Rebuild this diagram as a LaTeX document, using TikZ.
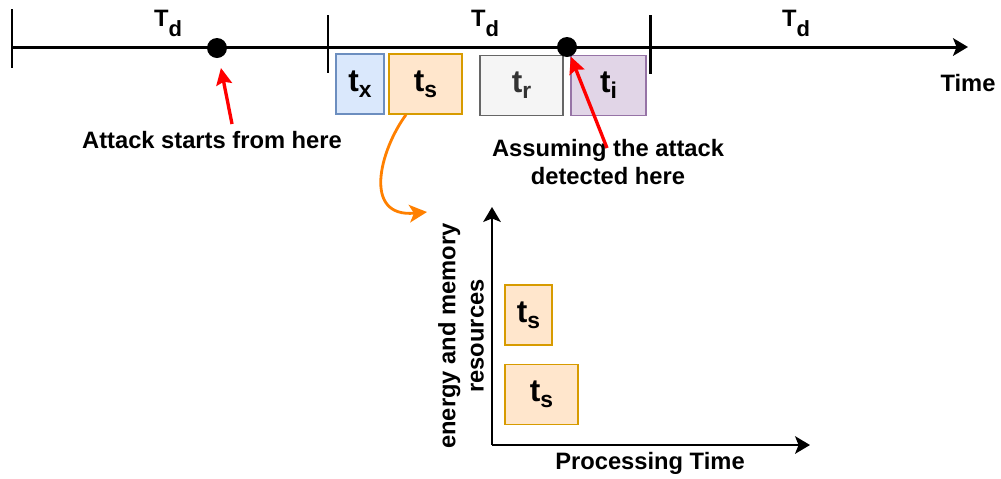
\documentclass[tikz,border=0pt]{standalone}
\usepackage{fontspec}
\setmainfont{Liberation Sans}
\usetikzlibrary{arrows.meta}
\definecolor{txfill}{HTML}{DAE8FC}\definecolor{txline}{HTML}{6C8EBF}
\definecolor{tsfill}{HTML}{FFE6CC}\definecolor{tsline}{HTML}{D79B00}
\definecolor{trfill}{HTML}{F5F5F5}\definecolor{trline}{HTML}{666666}\definecolor{trtext}{HTML}{333333}
\definecolor{tifill}{HTML}{E1D5E7}\definecolor{tiline}{HTML}{9673A6}
\definecolor{pointer}{HTML}{FF0000}\definecolor{zoomline}{HTML}{FF8000}
\newcommand{\slotlabel}[1]{{\fontsize{18}{20}\selectfont t}\raisebox{-3.5pt}{\fontsize{13}{14}\selectfont #1}}
\newcommand{\period}{T\raisebox{-6pt}{\fontsize{12.5}{14}\selectfont d}}
\begin{document}
\begin{tikzpicture}[x=0.02cm,y=-0.02cm,
      every node/.style={font=\fontsize{13.5}{16}\selectfont\bfseries},
      axis/.style={line width=1.7pt,-{Stealth[length=8.5pt,width=10pt,inset=2pt]}},
      tick/.style={line width=1.7pt},
      event/.style={circle,fill=black,inner sep=0pt,minimum size=0.4cm},
      slot/.style={draw,line width=0.85pt,inner sep=0pt,minimum height=1.2cm},
      marker/.style={draw=pointer,line width=1.9pt,-{Stealth[length=9.5pt,width=9pt,inset=1.5pt]}}]
        \useasboundingbox (0,0) rectangle (1001,478);
        % time line
        \coordinate (t0) at (12,47);
        \coordinate (tend) at (968,47);
        \draw[axis] (t0) -- (tend);
        \draw[tick] (12,9) -- (12,68);
        \draw[tick] (328,15) -- (328,73);
        \draw[tick] (650,15) -- (650,74);
        \node[anchor=base] (td1) at (168,26) {\period};
        \node[anchor=base] (td2) at (485,26) {\period};
        \node[anchor=base] (td3) at (796,26) {\period};
        \node (timelbl) at (968,83) {Time};
        % slots
        \node[slot,fill=txfill,draw=txline,minimum width=0.96cm] (tx) at (360,84) {\slotlabel{x}};
        \node[slot,fill=tsfill,draw=tsline,minimum width=1.46cm] (ts) at (425.5,84) {\slotlabel{s}};
        \node[slot,fill=trfill,draw=trline,text=trtext,minimum width=1.66cm] (tr) at (521.5,85.5) {\slotlabel{r}};
        \node[slot,fill=tifill,draw=tiline,minimum width=1.5cm] (ti) at (608.5,85.5) {\slotlabel{i}};
        % events
        \node[event] (start) at (217,48) {};
        \node[event] (detect) at (567,47) {};
        \node (startlbl) at (212,140) {Attack starts from here};
        \node[align=center] (detectlbl) at (608,162) {Assuming the attack\\detected here};
        \coordinate (starttail) at (232,124);
        \coordinate (detecttail) at (607,148);
        \draw[marker,shorten >=0.2cm] (starttail) -- (start);
        \draw[marker] (detecttail) -- (detect);
        % zoom into t_s
        \coordinate (zoomend) at (427,212);
        \draw[draw=zoomline,line width=1.6pt,-{Stealth[length=10pt,width=10pt,inset=2.5pt]}]
            (ts.south -| 406,0) .. controls (380,150) and (362,218) .. (zoomend);
        % resource chart
        \coordinate (origin) at (492,445);
        \coordinate (ytop) at (492,207);
        \coordinate (xend) at (810,445);
        \draw[axis,line width=1.2pt] (origin) -- (ytop);
        \draw[axis,line width=1.2pt] (origin) -- (xend);
        \node[slot,fill=tsfill,draw=tsline,minimum width=0.94cm] (tsa) at (528.5,315) {\slotlabel{s}};
        \node[slot,fill=tsfill,draw=tsline,minimum width=1.46cm] (tsb) at (541.5,394.5) {\slotlabel{s}};
        \node[rotate=90,align=center] (ylbl) at (461,336) {energy and memory\\resources};
        \node (xlbl) at (650,463) {Processing Time};
    \end{tikzpicture}
\end{document}
